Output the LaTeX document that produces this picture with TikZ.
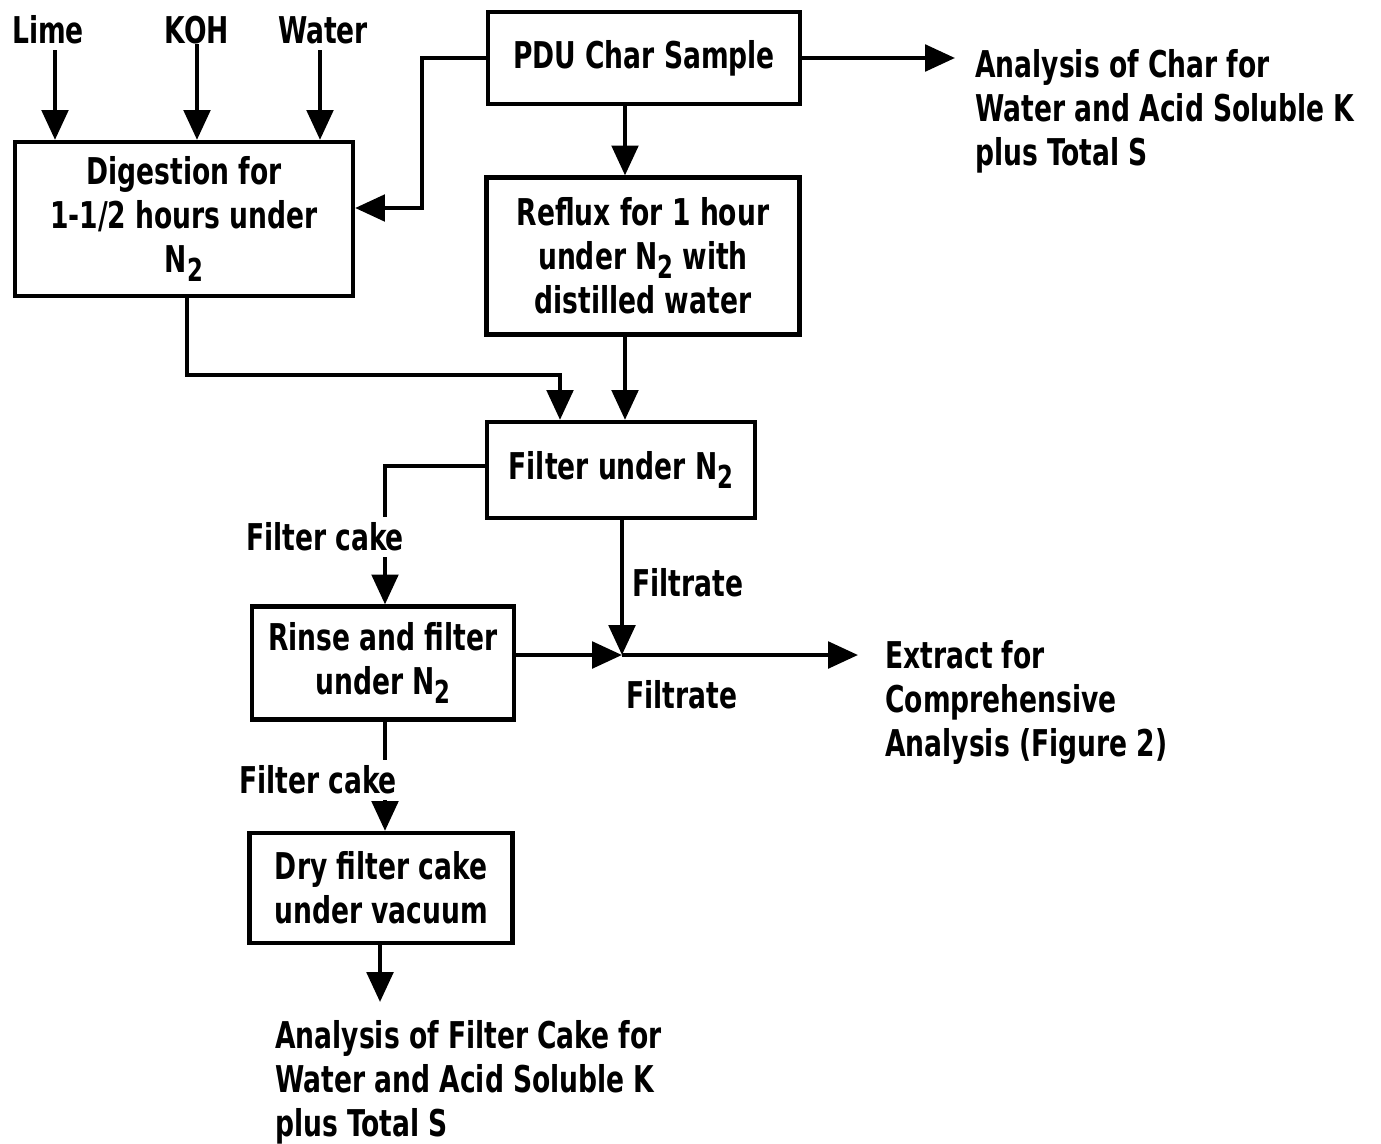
\documentclass[tikz,border=0pt]{standalone}
\usepackage{fontspec}
\setmainfont{DejaVu Sans Condensed}[FakeStretch=0.8, BoldFont={DejaVu Sans Condensed Bold}, BoldFeatures={FakeStretch=0.8}]
\usetikzlibrary{arrows.meta}
\newcommand\Ntwo{N\raisebox{-0.45ex}{\fontsize{18}{18}\selectfont 2}}
\begin{document}
\begin{tikzpicture}[x=0.02cm,y=-0.02cm,
  every node/.style={font=\fontsize{21}{25}\selectfont\bfseries, inner sep=0pt},
  box/.style={draw, line width=2.4pt, align=center},
  lbl/.style={align=left},
  cut/.style={fill=white, inner sep=3pt},
  arr/.style={line width=2.4pt, -{Triangle[length=17pt,width=15pt]}},
  ln/.style={line width=2.4pt}]
\useasboundingbox (0,0) rectangle (1381,1143);
% labels on top
\node (lime) at (48,30) {Lime};
\node (koh) at (197,30) {KOH};
\node (water) at (323,30) {Water};
% boxes
\node[box, minimum width=338*0.02cm, minimum height=154*0.02cm] (dig) at (184,219)
  {Digestion for\\1-1/2 hours under\\\Ntwo};
\node[box, minimum width=312*0.02cm, minimum height=92*0.02cm] (pdu) at (644,58)
  {PDU Char Sample};
\node[box, minimum width=313*0.02cm, minimum height=157*0.02cm] (reflux) at (643,256)
  {Reflux for 1 hour\\under \Ntwo{} with\\distilled water};
\node[box, minimum width=268*0.02cm, minimum height=96*0.02cm] (filter) at (621,470)
  {Filter under \Ntwo};
\node[box, minimum width=262*0.02cm, minimum height=113*0.02cm] (rinse) at (383,663)
  {Rinse and filter\\under \Ntwo};
\node[box, minimum width=263*0.02cm, minimum height=110*0.02cm] (dry) at (381,888)
  {Dry filter cake\\under vacuum};
% outside texts
\node[lbl, anchor=north west] (ana1) at (975,49)
  {Analysis of Char for\\Water and Acid Soluble K\\plus Total S};
\node[lbl, anchor=north west] (extract) at (885,640)
  {Extract for\\Comprehensive\\Analysis (Figure 2)};
\node[lbl, anchor=north west] (ana2) at (275,1020)
  {Analysis of Filter Cake for\\Water and Acid Soluble K\\plus Total S};
% connectors
\draw[arr] (55,50) -- (55,0 |- dig.north);
\draw[arr] (koh.south) -- (koh.south |- dig.north);
\draw[arr] (320,50) -- (320,0 |- dig.north);
\draw[arr] (pdu.east) -- (955,0 |- pdu.east);
\draw[arr] (pdu.west) -- (422,0 |- pdu.west) -- (422,208) -- (dig.east |- 0,208);
\draw[arr] (pdu.south -| 625,0) -- (reflux.north -| 625,0);
\draw[arr] (reflux.south -| 625,0) -- (filter.north -| 625,0);
\draw[arr] (dig.south -| 187,0) -- (187,375) -- (560,375) -- (filter.north -| 560,0);
\draw[arr] (filter.west |- 0,466) -- (385,466) -- (rinse.north -| 385,0);
\coordinate (j) at (622,655);
\draw[arr] (filter.south -| 622,0) -- (j);
\draw[arr] (rinse.east |- j) -- (j);
\draw[arr] (j) -- (858,655);
\draw[arr] (rinse.south -| 385,0) -- (dry.north -| 385,0);
\draw[arr] (dry.south -| 380,0) -- (380,1002);
% labels on connectors
\node[cut] (fc1) at (325,537) {Filter cake};
\node (fr1) at (688,583) {Filtrate};
\node (fr2) at (682,695) {Filtrate};
\node[cut] (fc2) at (318,780) {Filter cake};
\end{tikzpicture}
\end{document}
